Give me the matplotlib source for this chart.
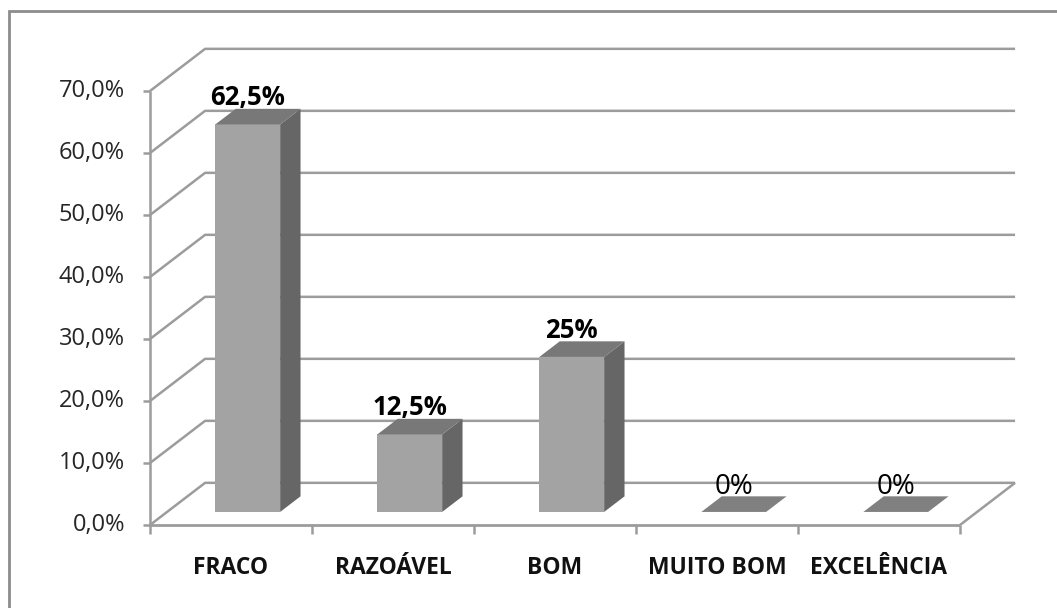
import matplotlib
matplotlib.use("Agg")
import matplotlib.pyplot as plt
from matplotlib.lines import Line2D
from matplotlib.patches import Polygon

categories = ["FRACO", "RAZOÁVEL", "BOM", "MUITO BOM", "EXCELÊNCIA"]
values = [62.5, 12.5, 25, 0, 0]
value_labels = ["62,5%", "12,5%", "25%", "0%", "0%"]
y_ticks = [0, 10, 20, 30, 40, 50, 60, 70]
y_tick_labels = ["0,0%", "10,0%", "20,0%", "30,0%", "40,0%", "50,0%", "60,0%", "70,0%"]

W, H = 1057, 608
LEFT, RIGHT, BOTTOM, TOP = 150, 960, 525, 91  # front plane, in pixels

# depth of the fake 3D box, in data units
WALL_DX, WALL_DY = 0.34, 6.8
BAR_D0, BAR_D1 = 0.31, 0.68  # bar depth as a fraction of the box depth
BAR_X0, BAR_W = 0.298, 0.40

GRID = "#9c9c9c"
FRONT = "#a3a3a3"
SIDE = "#666666"
ROOF = "#787878"
TEXT = "#262626"

plt.rcParams["font.family"] = ["Open Sans", "DejaVu Sans"]

fig = plt.figure(figsize=(W / 100, H / 100), dpi=100)
fig.patch.set_facecolor("white")

# chart frame is cropped: only the top and left edges are in the picture
fig.add_artist(Line2D([8.5 / W, 8.5 / W, 1], [0, 1 - 11 / H, 1 - 11 / H], transform=fig.transFigure,
                      color="#8c8c8c", lw=2, solid_joinstyle="miter"))

ax = fig.add_axes([LEFT / W, 1 - BOTTOM / H, (RIGHT - LEFT) / W, (BOTTOM - TOP) / H])
ax.set_xlim(0, len(categories))
ax.set_ylim(0, 70)
ax.axis("off")


def proj(x, y, d):
    return (x + d * WALL_DX, y + d * WALL_DY)


def line(xs, ys, lw=1.8):
    ax.plot(xs, ys, color=GRID, lw=lw, clip_on=False, solid_capstyle="butt", zorder=1)


# gridlines run along the floor/back wall, then diagonally to the axis
n = len(categories)
for t, lab in zip(y_ticks, y_tick_labels):
    bx, by = proj(0, t, 1)
    ex, ey = proj(n, t, 1)
    line([0, bx, ex], [t, by, ey])
    line([-0.045, 0], [t, t])
    ax.text(-0.155, t, lab, ha="right", va="center", fontsize=17, color=TEXT, clip_on=False)

# front axes and floor edge
line([0, 0], [0, 70])
line([0, n], [0, 0], lw=2)
fx, fy = proj(n, 0, 1)
line([n, fx], [0, fy])
for i in range(n + 1):
    line([i, i], [0, -1.45])


def poly(points, color, z):
    ax.add_patch(Polygon(points, closed=True, fc=color, ec="none", clip_on=False, zorder=z))


for i, (name, v, lab) in enumerate(zip(categories, values, value_labels)):
    x0, x1 = i + BAR_X0, i + BAR_X0 + BAR_W
    a = proj(x0, 0, BAR_D0)
    b = proj(x1, 0, BAR_D0)
    c = proj(x1, v, BAR_D0)
    d = proj(x0, v, BAR_D0)
    c2 = proj(x1, v, BAR_D1)
    d2 = proj(x0, v, BAR_D1)
    b2 = proj(x1, 0, BAR_D1)
    if v > 0:
        poly([a, b, c, d], FRONT, 3)
        poly([b, b2, c2, c], SIDE, 3)
    poly([d, c, c2, d2], ROOF if v > 0 else "#808080", 3)
    if v > 0:
        ax.text((d[0] + c[0]) / 2, d[1] + 4.3, lab, ha="center", va="center", fontsize=18.5,
                fontweight="bold", color="black", clip_on=False, zorder=4)
    else:
        ax.text((d[0] + c[0]) / 2, d[1] + 4.1, lab, ha="center", va="center", fontsize=20,
                color="black", clip_on=False, zorder=4)
    ax.text(i + 0.5, -6.9, name, ha="center", va="center", fontsize=16.5,
            fontweight="bold", color="#111111", clip_on=False)

fig.savefig("out.png", dpi=100)
